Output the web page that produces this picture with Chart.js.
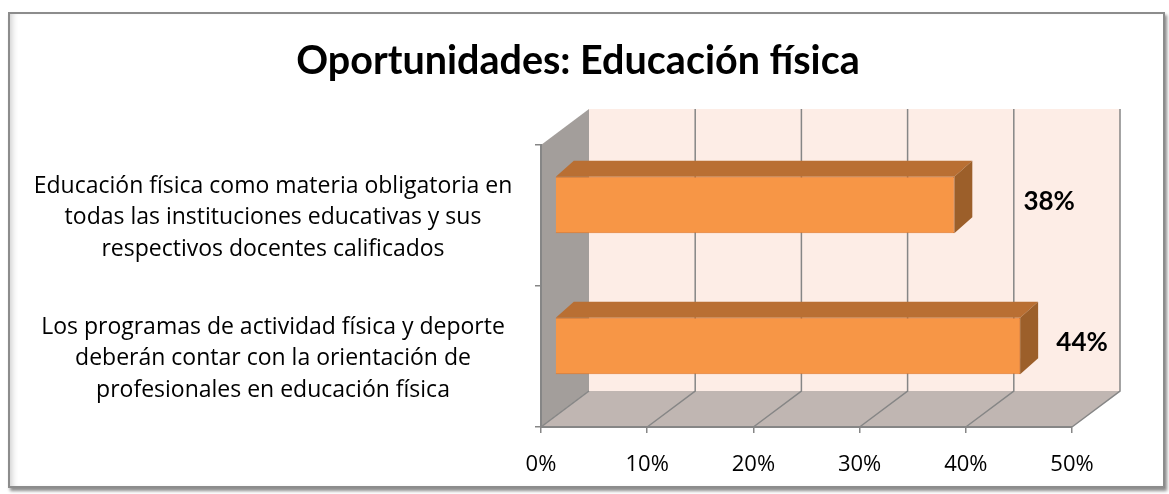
<!DOCTYPE html>
<html>
<head>
<meta charset="utf-8">
<script src="https://cdn.jsdelivr.net/npm/chart.js@4.4.1/dist/chart.umd.min.js"></script>
<style>
    html, body { margin: 0; padding: 0; background: #fff; }
    #frame {
        position: absolute; left: 8px; top: 12px; width: 1153px; height: 472px;
        border: 2px solid #8c8c8c;
        box-shadow: 2px 3px 3px rgba(0, 0, 0, 0.45), inset 6px 0 6px -4px rgba(0, 0, 0, 0.2);
    }
    #chart { position: absolute; left: 0; top: 0; }
</style>
</head>
<body>
<div id="frame"></div>
<canvas id="chart" width="1169" height="494"></canvas>
<script>
'use strict';

// categories (multi-line labels) and values (%)
const categories = [
    ['Educación física como materia obligatoria en', 'todas las instituciones educativas y sus', 'respectivos docentes calificados'],
    ['Los programas de actividad física y deporte', 'deberán contar con la orientación de', 'profesionales en educación física']
];
const values = [37.6, 43.8];
const valueLabels = ['38%', '44%'];
const xTicks = [0, 10, 20, 30, 40, 50];

const WALL = { dx: 48, dy: -36 };     // depth of the 3D box
const BAR_OFF = { dx: 14, dy: -10.5 }; // where the bar front face sits
const BAR_D = { dx: 18, dy: -16 };     // depth of each bar

const gray = '#868686';
const catFont = { family: 'Open Sans', size: 23, lineHeight: 1.37 };

// centre the category labels around x = 273
const measure = document.createElement('canvas').getContext('2d');
measure.font = catFont.size + 'px "' + catFont.family + '"';
const widest = Math.max(...categories.flat().map(s => measure.measureText(s).width));
const yPad = 541 - 6 - 273 - widest / 2;

const box3d = {
    id: 'box3d',
    beforeDraw(chart) {
        const { ctx, chartArea: a, scales: { x } } = chart;
        const L = a.left, R = a.right, T = a.top, B = a.bottom;
        ctx.save();
        // back wall
        ctx.fillStyle = '#fdede6';
        ctx.fillRect(L + WALL.dx, T + WALL.dy, R - L, B - T);
        // side wall
        ctx.fillStyle = '#a39e9b';
        ctx.beginPath();
        ctx.moveTo(L, T); ctx.lineTo(L + WALL.dx, T + WALL.dy);
        ctx.lineTo(L + WALL.dx, B + WALL.dy); ctx.lineTo(L, B);
        ctx.closePath(); ctx.fill();
        // floor
        ctx.fillStyle = '#c0b6b2';
        ctx.beginPath();
        ctx.moveTo(L, B); ctx.lineTo(R, B);
        ctx.lineTo(R + WALL.dx, B + WALL.dy); ctx.lineTo(L + WALL.dx, B + WALL.dy);
        ctx.closePath(); ctx.fill();
        // grid lines on back wall and floor
        ctx.strokeStyle = gray;
        ctx.lineWidth = 1.5;
        xTicks.forEach(v => {
            const px = x.getPixelForValue(v);
            ctx.beginPath();
            ctx.moveTo(px, B);
            ctx.lineTo(px + WALL.dx, B + WALL.dy);
            if (v !== 0) ctx.lineTo(px + WALL.dx, T + WALL.dy);
            ctx.stroke();
        });
        ctx.restore();
    },
    beforeDatasetsDraw(chart) {
        const { ctx } = chart;
        ctx.save();
        ctx.translate(BAR_OFF.dx, BAR_OFF.dy);
        chart.getDatasetMeta(0).data.forEach(bar => {
            const x0 = bar.base, x1 = bar.x;
            const y0 = bar.y - bar.height / 2, y1 = bar.y + bar.height / 2;
            ctx.fillStyle = '#b96f33';
            ctx.beginPath();
            ctx.moveTo(x0, y0); ctx.lineTo(x0 + BAR_D.dx, y0 + BAR_D.dy);
            ctx.lineTo(x1 + BAR_D.dx, y0 + BAR_D.dy); ctx.lineTo(x1, y0);
            ctx.closePath(); ctx.fill();
            ctx.fillStyle = '#9c5f2a';
            ctx.beginPath();
            ctx.moveTo(x1, y0); ctx.lineTo(x1 + BAR_D.dx, y0 + BAR_D.dy);
            ctx.lineTo(x1 + BAR_D.dx, y1 + BAR_D.dy); ctx.lineTo(x1, y1);
            ctx.closePath(); ctx.fill();
        });
    },
    afterDatasetsDraw(chart) {
        const { ctx, chartArea: a } = chart;
        ctx.restore();
        ctx.save();
        ctx.font = 'bold 26px Lato';
        ctx.fillStyle = '#000';
        ctx.textAlign = 'center';
        ctx.textBaseline = 'middle';
        chart.getDatasetMeta(0).data.forEach((bar, i) => {
            const backEnd = bar.x + BAR_OFF.dx + BAR_D.dx;
            const wallEnd = a.right + WALL.dx;
            ctx.fillText(valueLabels[i], (backEnd + wallEnd) / 2 + 3, bar.y - 14);
        });
        ctx.restore();
    }
};

new Chart(document.getElementById('chart'), {
    type: 'bar',
    data: {
        labels: categories,
        datasets: [{
            data: values,
            backgroundColor: '#f79646',
            borderColor: '#e0762a',
            borderWidth: 1,
            categoryPercentage: 1,
            barPercentage: 0.4,
            clip: false
        }]
    },
    options: {
        indexAxis: 'y',
        responsive: false,
        animation: false,
        layout: { padding: { left: 0, right: 13, top: 0, bottom: 0 } },
        plugins: {
            legend: { display: false },
            tooltip: { enabled: false },
            title: {
                display: true,
                text: 'Oportunidades: Educación física',
                color: '#000',
                font: { family: 'Lato', size: 39.5, weight: 'bold', lineHeight: 1.2 },
                padding: { top: 38, bottom: 59.6 }
            }
        },
        scales: {
            x: {
                min: 0,
                max: 50,
                afterBuildTicks: scale => { scale.ticks = xTicks.map(v => ({ value: v })); },
                afterFit: scale => { scale.height = 67; },
                ticks: {
                    callback: v => v + '%',
                    color: '#000',
                    padding: 19,
                    font: { family: 'Open Sans', size: 22 }
                },
                grid: { drawOnChartArea: false, tickLength: 6, color: gray, lineWidth: 1.5 },
                border: { color: gray, width: 2 }
            },
            y: {
                afterFit: scale => {
                    scale.width = 541;
                    scale.paddingTop = 0;
                    scale.paddingBottom = 0;
                },
                ticks: {
                    color: '#000',
                    crossAlign: 'center',
                    padding: yPad,
                    labelOffset: 2,
                    font: catFont
                },
                grid: { drawOnChartArea: false, tickLength: 6, color: gray, lineWidth: 1.5, offset: true },
                border: { color: gray, width: 2 }
            },
            // empty right-hand box so the title centres like the original
            y2: {
                type: 'category',
                position: 'right',
                afterFit: scale => {
                    scale.width = 84;
                    scale.paddingTop = 0;
                    scale.paddingBottom = 0;
                },
                ticks: { display: false },
                grid: { display: false },
                border: { display: false }
            }
        }
    },
    plugins: [box3d]
});
</script>
</body>
</html>
